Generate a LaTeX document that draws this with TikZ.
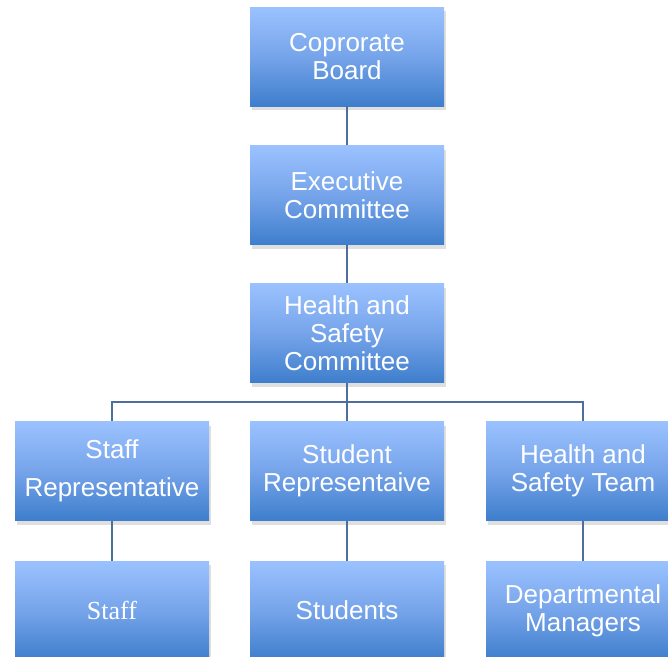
\documentclass[tikz,border=0pt]{standalone}
\usepackage{fontspec}
\setmainfont{Liberation Sans}
\newfontfamily\staffserif{Liberation Serif}
\usetikzlibrary{shadows}
\definecolor{boxtop}{RGB}{155,194,255}
\definecolor{boxmid}{RGB}{118,164,234}
\definecolor{boxbottom}{RGB}{62,126,204}
\definecolor{linkblue}{RGB}{79,110,160}
\tikzset{
    post/.style={minimum width=194pt,minimum height=99pt,inner sep=0pt,align=center,
        text=white,font=\fontsize{26}{28}\selectfont,
        top color=boxtop,bottom color=boxbottom,middle color=boxmid,
        drop shadow={shadow xshift=2pt,shadow yshift=-4pt,opacity=0.25}},
    link/.style={draw=linkblue,line width=1.5pt}
}
\begin{document}
\begin{tikzpicture}[x=1pt,y=-1pt]
\useasboundingbox (0,0) rectangle (668,656);
\node[post] (board) at (347,56.5) {Coprorate\\Board};
\node[post] (exec) at (347,195) {Executive\\Committee};
\node[post] (hsc) at (347,333) {Health and\\Safety\\Committee};
\node[post] (staffrep) at (112,471) {Staff\\[10pt]Representative};
\node[post] (studrep) at (347,471) {Student\\Representaive};
\node[post] (hsteam) at (583,471) {Health and\\Safety Team};
\node[post,font=\staffserif\fontsize{26}{28}\selectfont] (staff) at (112,610.5) {Staff};
\node[post] (students) at (347,610.5) {Students};
\node[post] (managers) at (583,610.5) {Departmental\\Managers};
\coordinate (split) at (347,402);
\draw[link] (board)--(exec);
\draw[link] (exec)--(hsc);
\draw[link] (hsc)--(split);
\draw[link] (split)-|(staffrep);
\draw[link] (split)--(studrep);
\draw[link] (split)-|(hsteam);
\draw[link] (staffrep)--(staff);
\draw[link] (studrep)--(students);
\draw[link] (hsteam)--(managers);
\end{tikzpicture}
\end{document}
